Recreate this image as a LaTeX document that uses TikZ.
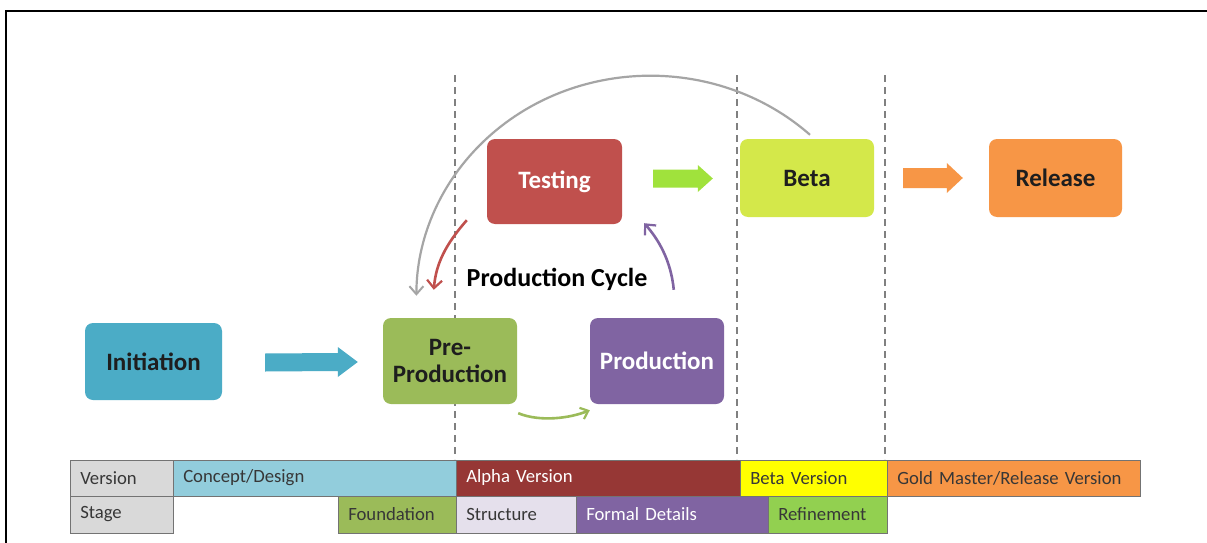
\documentclass[tikz,border=0pt]{standalone}
\usepackage{fontspec}
\setmainfont{Carlito}
\usetikzlibrary{arrows.meta,calc}
\definecolor{cinit}{RGB}{75,172,198}
\definecolor{cpre}{RGB}{155,187,89}
\definecolor{cprod}{RGB}{128,100,162}
\definecolor{ctest}{RGB}{192,80,77}
\definecolor{cbeta}{RGB}{212,232,74}
\definecolor{crel}{RGB}{247,150,70}
\definecolor{cgarrow}{RGB}{160,226,60}
\definecolor{cgray}{RGB}{217,217,217}
\definecolor{cconcept}{RGB}{146,205,220}
\definecolor{calpha}{RGB}{150,55,53}
\definecolor{cyellow}{RGB}{255,255,0}
\definecolor{cstruct}{RGB}{229,224,236}
\definecolor{crefine}{RGB}{146,208,80}
\definecolor{txtdark}{RGB}{30,30,30}
\definecolor{tbltxt}{RGB}{55,55,55}
\definecolor{dashgray}{RGB}{128,128,128}
\definecolor{arcgray}{RGB}{165,165,165}
\newcommand{\blkarrow}[6]{% color, from, to, shaft half, head half, head length
  \fill[#1] ($(#2)+(0,-#4)$) -- ($(#3)+(-#6,-#4)$) -- ($(#3)+(-#6,-#5)$) -- (#3)
     -- ($(#3)+(-#6,#5)$) -- ($(#3)+(-#6,#4)$) -- ($(#2)+(0,#4)$) -- cycle;}
\begin{document}
\begin{tikzpicture}[x=1pt,y=-1pt,
  box/.style={rounded corners=8pt, inner sep=0pt, align=center,
    font=\bfseries\fontsize{25}{27}\selectfont},
  cell/.style={anchor=north west, inner xsep=10pt, inner ysep=0pt, minimum height=36.5pt,
    align=left, draw=black!55, line width=0.5pt, font=\fontsize{18.7}{21}\selectfont, text=tbltxt},
  divider/.style={draw=dashgray, line width=1.4pt, dash pattern=on 7pt off 5pt},
  cyc/.style={line width=2.6pt, -{Straight Barb[length=8pt,width=15pt,line width=2.2pt]}}
]
\useasboundingbox (0,0) rectangle (1207,543);
\fill[white] (0,0) rectangle (1207,543);
% frame
\draw[line width=2.6pt] (6,543) -- (6,11) -- (1207,11);
% dashed dividers
\coordinate (d1t) at (455,75); \coordinate (d1b) at (455,459);
\coordinate (d2t) at (737,75); \coordinate (d2b) at (737,459);
\coordinate (d3t) at (885,75); \coordinate (d3b) at (885,459);
\draw[divider] (d1t) -- (d1b);
\draw[divider] (d2t) -- (d2b);
\draw[divider] (d3t) -- (d3b);
% boxes
\node[box, fill=cinit, minimum width=137pt, minimum height=77pt, text=txtdark] (init) at (153.5,361.5) {Initiation};
\node[box, fill=cpre, minimum width=134pt, minimum height=86pt, text=txtdark] (pre) at (450,361) {Pre-\\Production};
\node[box, fill=cprod, minimum width=134pt, minimum height=86pt, text=white] (prod) at (657,361) {Production};
\node[box, fill=ctest, minimum width=135pt, minimum height=85pt, text=white] (test) at (554.5,181.5) {Testing};
\node[box, fill=cbeta, minimum width=134pt, minimum height=78pt, text=txtdark] (beta) at (807,178) {Beta};
\node[box, fill=crel, minimum width=133pt, minimum height=78pt, text=txtdark] (rel) at (1055.5,178) {Release};
\node[font=\bfseries\fontsize{26}{28}\selectfont, text=black] (cycle) at (557,279) {Production Cycle};
% block arrows
\coordinate (a1s) at ($(init.east)+(43,1)$); \coordinate (a1e) at ($(pre.west)+(-25,1)$);
\blkarrow{cinit}{a1s}{a1e}{9}{15}{20}
\coordinate (a2s) at ($(test.east)+(31,-3)$); \coordinate (a2e) at ($(beta.west)+(-27,0.5)$);
\blkarrow{cgarrow}{a2s}{a2e}{9}{13.5}{15}
\coordinate (a3s) at ($(beta.east)+(29,0)$); \coordinate (a3e) at ($(rel.west)+(-26,0)$);
\blkarrow{crel}{a3s}{a3e}{10}{15}{16}
% cycle arrows
\coordinate (r1) at ($(test.south west)+(-20,-4)$);
\coordinate (r2) at ($(pre.north west)+(51,-28)$);
\draw[cyc, draw=ctest] (r1) .. controls +(-22,25) and +(2,-25) .. (r2);
\coordinate (p1) at ($(prod.north west)+(84,-28)$);
\coordinate (p2) at ($(test.south east)+(22,-1)$);
\draw[cyc, draw=cprod] (p1) .. controls +(-3,-30) and +(14,16) .. (p2);
\coordinate (g1) at ($(pre.south east)+(1,9)$);
\coordinate (g2) at ($(prod.south west)+(0,6)$);
\draw[line width=2.6pt, draw=cpre, -{Straight Barb[length=7pt,width=12pt,line width=2.2pt]}] (g1) .. controls +(22,9) and +(-20,8) .. (g2);
\draw[line width=2.2pt, draw=arcgray, -{Straight Barb[length=8pt,width=14pt,line width=2pt]}]
  ($(beta.north)+(3,-4)$) arc[start angle=47, end angle=180, x radius=234pt, y radius=220pt];
% table
\node[cell, fill=cgray, text width=83pt] (tv) at (70,459.5) {Version};
\node[cell, fill=cconcept, text width=263pt] (tc) at (173,459.5) {Concept/Design};
\node[cell, fill=calpha, text width=264pt, text=white] (ta) at (456,459.5) {Alpha Version};
\node[cell, fill=cyellow, text width=127pt] (tb) at (740,459.5) {Beta Version};
\node[cell, fill=crel, text width=233pt] (tg) at (887,459.5) {Gold Master/Release Version};
\node[cell, fill=cgray, text width=83pt] (ts) at (70,496) {Stage};
\node[cell, fill=cpre, text width=98pt] (tf) at (338,496) {Foundation};
\node[cell, fill=cstruct, text width=100pt] (tst) at (456,496) {Structure};
\node[cell, fill=cprod, text width=172pt, text=white] (tfd) at (576,496) {Formal Details};
\node[cell, fill=crefine, text width=99pt] (tr) at (768,496) {Refinement};
\end{tikzpicture}
\end{document}
